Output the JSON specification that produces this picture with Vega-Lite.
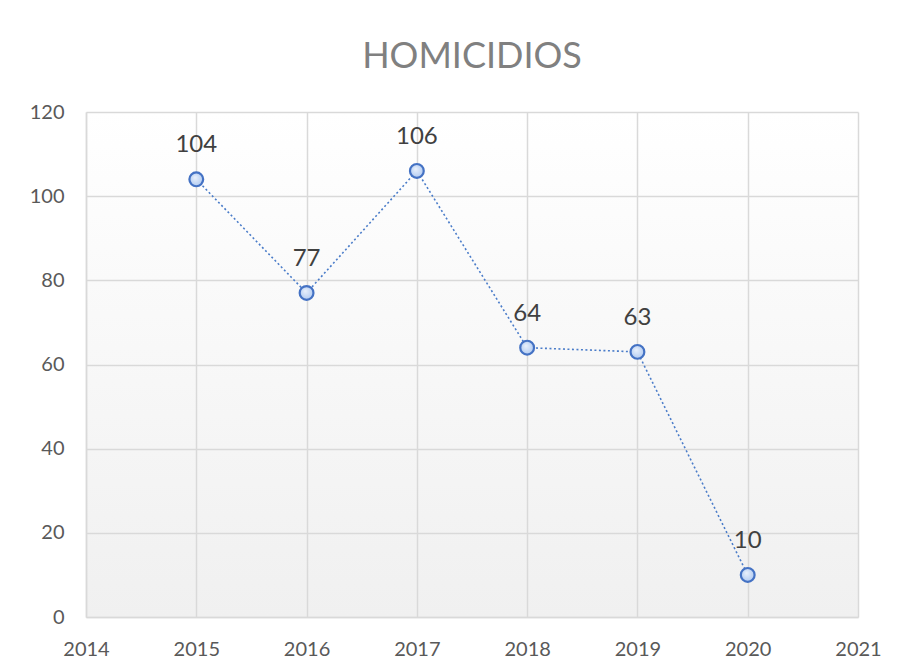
{
  "$schema": "https://vega.github.io/schema/vega-lite/v6.json",
  "width": 772,
  "height": 505,
  "autosize": "none",
  "padding": {"left": 86, "right": 39, "top": 112, "bottom": 53},
  "background": "white",
  "title": {
    "text": "HOMICIDIOS",
    "font": "Lato",
    "fontSize": 36,
    "fontWeight": "normal",
    "color": "#808080",
    "anchor": "middle",
    "offset": 26
  },
  "config": {
    "view": {
      "stroke": null,
      "fill": {
        "gradient": "linear",
        "x1": 0, "y1": 0, "x2": 0, "y2": 1,
        "stops": [
          {"offset": 0, "color": "#ffffff"},
          {"offset": 1, "color": "#f0f0f0"}
        ]
      }
    },
    "font": "Lato"
  },
  "data": {
    "values": [
      {"year": 2015, "value": 104},
      {"year": 2016, "value": 77},
      {"year": 2017, "value": 106},
      {"year": 2018, "value": 64},
      {"year": 2019, "value": 63},
      {"year": 2020, "value": 10}
    ]
  },
  "layer": [
    {
      "mark": {"type": "line", "color": "#4a7cc9", "strokeWidth": 1.6, "strokeDash": [2, 2.5]},
      "encoding": {
        "x": {
          "field": "year",
          "type": "quantitative",
          "scale": {"domain": [2014, 2021], "nice": false, "zero": false},
          "axis": {
            "title": null,
            "values": [2014, 2015, 2016, 2017, 2018, 2019, 2020, 2021],
            "format": "d",
            "grid": true,
            "gridColor": "#d9d9d9",
            "gridWidth": 1.5,
            "domain": true,
            "domainColor": "#d9d9d9",
            "domainWidth": 1.5,
            "ticks": false,
            "labelFlush": false,
            "labelOverlap": false,
            "labelPadding": 22,
            "labelFontSize": 20,
            "labelColor": "#595959",
            "labelFont": "Lato"
          }
        },
        "y": {
          "field": "value",
          "type": "quantitative",
          "scale": {"domain": [0, 120], "nice": false},
          "axis": {
            "title": null,
            "values": [0, 20, 40, 60, 80, 100, 120],
            "grid": true,
            "gridColor": "#d9d9d9",
            "gridWidth": 1.5,
            "domain": true,
            "domainColor": "#d9d9d9",
            "domainWidth": 1.5,
            "ticks": false,
            "labelFlush": false,
            "labelPadding": 22,
            "labelFontSize": 20,
            "labelColor": "#595959",
            "labelFont": "Lato"
          }
        }
      }
    },
    {
      "mark": {
        "type": "point",
        "shape": "circle",
        "filled": true,
        "size": 190,
        "fill": {
          "gradient": "radial",
          "x1": 0.4, "y1": 0.35, "r1": 0, "x2": 0.5, "y2": 0.5, "r2": 0.6,
          "stops": [
            {"offset": 0, "color": "#eaf1fc"},
            {"offset": 1, "color": "#a9c5ef"}
          ]
        },
        "stroke": "#4472c4",
        "strokeWidth": 2.2,
        "opacity": 1
      },
      "encoding": {
        "x": {"field": "year", "type": "quantitative"},
        "y": {"field": "value", "type": "quantitative"}
      }
    },
    {
      "mark": {"type": "text", "dy": -34, "fontSize": 24, "color": "#404040", "font": "Lato"},
      "encoding": {
        "x": {"field": "year", "type": "quantitative"},
        "y": {"field": "value", "type": "quantitative"},
        "text": {"field": "value", "type": "quantitative"}
      }
    }
  ]
}
